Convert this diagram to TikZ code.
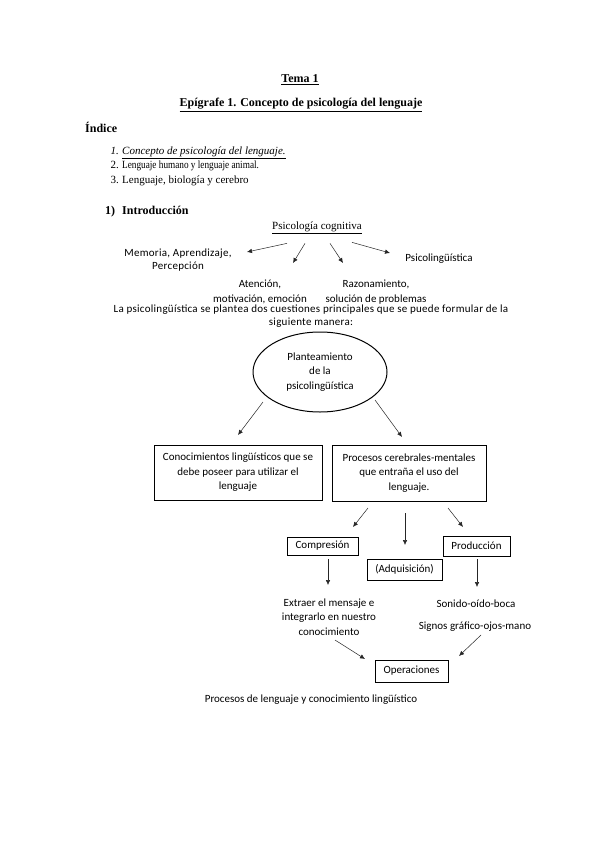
\documentclass[tikz,border=0pt]{standalone}
\usepackage{fontspec}
\setmainfont{Liberation Serif}
\newfontfamily\diafont{Carlito}
\newfontfamily\diawide[LetterSpace=2.5]{Carlito}
\usepackage{graphicx}
\usetikzlibrary{positioning,arrows.meta,calc,shapes.geometric}

\begin{document}
\begin{tikzpicture}[x=1pt, y=-1pt,
		txt/.style={inner sep=0pt, align=center,
				font=\diafont\fontsize{11}{14.5}\selectfont},
		head/.style={inner sep=0pt, font=\rmfamily\fontsize{12}{14}\selectfont\bfseries},
		item/.style={inner sep=0pt, anchor=base west,
				font=\rmfamily\fontsize{11}{13}\selectfont},
		box/.style={txt, draw, line width=0.6pt},
		arr/.style={-{Latex[length=5pt,width=4.5pt]}, line width=0.5pt, draw=black!85}
		]
		\useasboundingbox[fill=white] (0,0) rectangle (599,848);
		% page heading and index
		\node[head, anchor=base] (tema) at (300,83) {\underline{Tema 1}};
		\node[head, anchor=base] (epi) at (301,107)
		{\underline{Epígrafe 1. Concepto de psicología del lenguaje}};
		\node[head, anchor=base west] (indice) at (85,132) {Índice};
		\node[item, anchor=base east] (num1) at (119,154) {\textit{1.}};
		\node[item] (idx1) at (122,154) {\textit{\underline{Concepto de psicología del lenguaje.}}};
		\node[item, anchor=base east] (num2) at (119,168) {2.};
		\node[item] (idx2) at (122,168) {\scalebox{0.84}[1]{Lenguaje humano y lenguaje animal.}};
		\node[item, anchor=base east] (num3) at (119,183) {3.};
		\node[item] (idx3) at (122,183) {Lenguaje, biología y cerebro};
		\node[head, anchor=base west] (secnum) at (105,214) {1)};
		\node[head, anchor=base west] (sec) at (122,214) {Introducción};
		% psicologia cognitiva
		\node[item, anchor=base] (cog) at (317,229) {\underline{Psicología cognitiva}};
		\node[txt, font=\diawide\fontsize{11}{13}\selectfont] (mem) at (178,260)
		{Memoria, Aprendizaje,\\Percepción};
		\node[txt] (ate) at (260,292) {Atención,\\motivación, emoción};
		\node[txt] (raz) at (376,292) {Razonamiento,\\solución de problemas};
		\node[txt] (psl) at (439,259) {Psicolingüística};
		\draw[arr] ($(cog)+(-30,16)$) -- ($(mem)+(69,-8)$);
		\draw[arr] ($(cog)+(-12,16)$) -- ($(ate)+(33,-29)$);
		\draw[arr] ($(cog)+(13,16)$) -- ($(raz)+(-33,-29)$);
		\draw[arr] ($(cog)+(35,15)$) -- ($(psl)+(-49,-6)$);
		\node[txt, font=\diawide\fontsize{11}{12.5}\selectfont] (plant) at (311,316)
		{La psicolingüística se plantea dos cuestiones principales que se puede formular de la\\
			siguiente manera:};
		% planteamiento
		\node[txt, draw, ellipse, line width=1pt, minimum width=134pt, minimum height=80pt] (ell)
		at (320,372) {Planteamiento\\de la\\psicolingüística};
		\node[box, minimum width=168pt, minimum height=55pt] (conoc) at (238,472.5)
		{Conocimientos lingüísticos que se\\debe poseer para utilizar el\\lenguaje};
		\node[box, minimum width=154pt, minimum height=56pt] (proc) at (409,473)
		{Procesos cerebrales-mentales\\que entraña el uso del\\lenguaje.};
		\draw[arr] ($(ell)+(-57,30)$) -- ($(conoc)+(0,-37.5)$);
		\draw[arr] ($(ell)+(55,28)$) -- ($(proc)+(-7,-36)$);
		% procesos
		\node[box, minimum width=71pt, minimum height=18pt] (comp) at (322.5,546) {Compresión};
		\node[box, minimum width=75pt, minimum height=21pt] (adq) at (404.5,569.5) {(Adquisición)};
		\node[box, minimum width=67pt, minimum height=20pt] (prod) at (476.5,546) {Producción};
		\draw[arr] ($(proc)+(-41,35)$) -- ($(comp)+(30.5,-19)$);
		\draw[arr] ($(proc)+(-4,40)$) -- ($(adq)+(0.5,-24.5)$);
		\draw[arr] ($(proc)+(39,35)$) -- ($(prod)+(-13.5,-19)$);
		\node[txt] (extr) at (329,617) {Extraer el mensaje e\\integrarlo en nuestro\\conocimiento};
		\node[txt] (son) at (476,604) {Sonido-oído-boca};
		\node[txt] (sig) at (475,627) {Signos gráfico-ojos-mano};
		\draw[arr] ($(comp)+(5.5,13)$) -- ($(extr)+(-1,-32)$);
		\draw[arr] ($(prod)+(0.5,13)$) -- ($(son)+(1,-17)$);
		\node[box, minimum width=73pt, minimum height=22pt] (oper) at (411.5,671) {Operaciones};
		\draw[arr] ($(extr)+(6,23)$) -- ($(oper)+(-46.5,-12)$);
		\draw[arr] ($(sig)+(6,8)$) -- ($(oper)+(47.5,-15)$);
		\node[txt] (capt) at (311,700) {Procesos de lenguaje y conocimiento lingüístico};
	\end{tikzpicture}
\end{document}
